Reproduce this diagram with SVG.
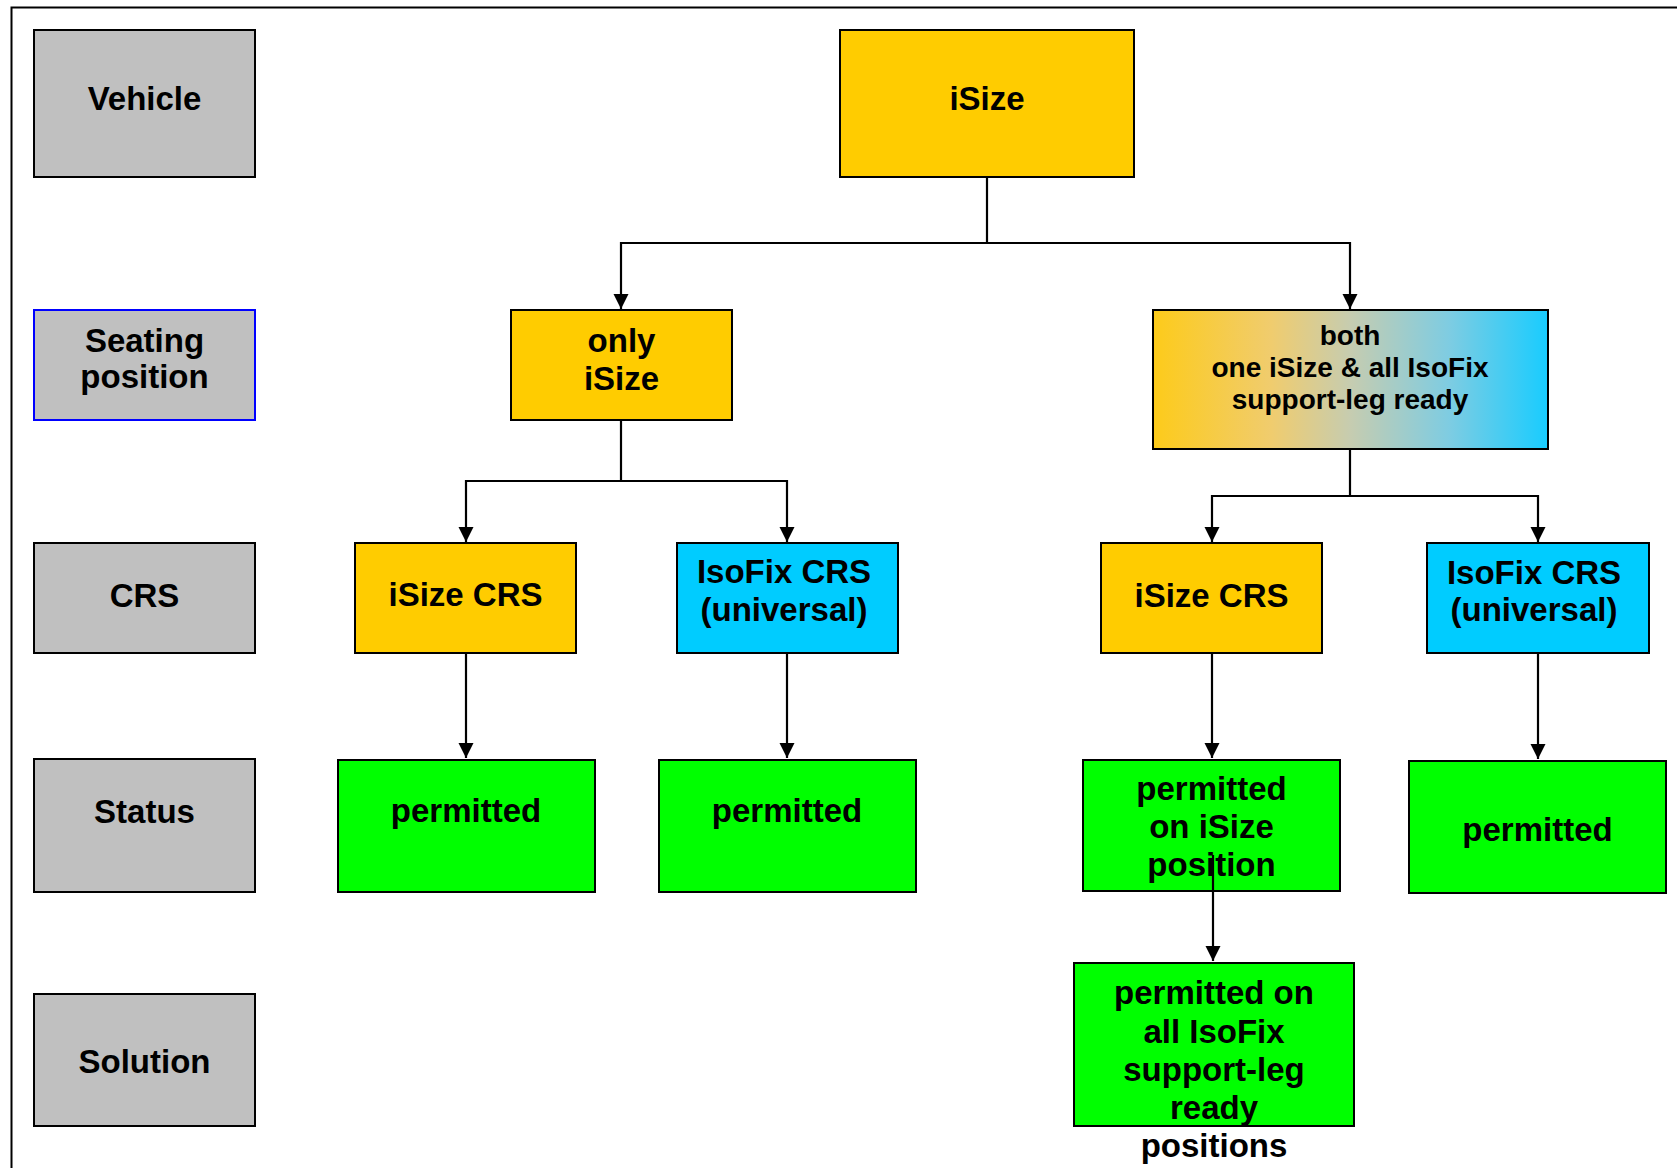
<svg xmlns="http://www.w3.org/2000/svg" width="1677" height="1168" viewBox="0 0 1677 1168">
  <style>
    text { font-family: "Liberation Sans", Arial, sans-serif; font-weight: bold; fill: #000; text-anchor: middle; }
    .lbl { font-size: 33px; }
    .sm { font-size: 28px; }
    .box { stroke: #000; stroke-width: 2; }
    .gray { fill: #C0C0C0; }
    .yel { fill: #FFCC00; }
    .cyan { fill: #00CCFF; }
    .green { fill: #00FF00; }
    .conn { fill: none; stroke: #000; stroke-width: 2.2; }
  </style>
  <defs>
    <marker id="arrow" markerUnits="userSpaceOnUse" markerWidth="16" markerHeight="16" refX="15" refY="7.5" orient="auto">
      <path d="M0,0 L15,7.5 L0,15 z" fill="#000"/>
    </marker>
    <linearGradient id="grad" x1="0" y1="0" x2="1" y2="0">
      <stop offset="0" stop-color="#FDCB1A"/>
      <stop offset="0.3" stop-color="#F0CC6E"/>
      <stop offset="0.5" stop-color="#C6CCB0"/>
      <stop offset="0.75" stop-color="#7ECCE2"/>
      <stop offset="1" stop-color="#18CCFF"/>
    </linearGradient>
  </defs>
  <rect width="1677" height="1168" fill="#fff"/>
  <path d="M11.5,1168 V7.5 H1677" fill="none" stroke="#000" stroke-width="2"/>

  <g id="row-vehicle">
    <rect class="box gray" x="34" y="30" width="221" height="147"/>
    <text class="lbl" x="144.5" y="110">Vehicle</text>
  </g>
  <g id="row-seating">
    <rect class="gray" x="34" y="310" width="221" height="110" stroke="#0000FF" stroke-width="2"/>
    <text class="lbl" x="144.5" y="352">Seating</text>
    <text class="lbl" x="144.5" y="388">position</text>
  </g>
  <g id="row-crs">
    <rect class="box gray" x="34" y="543" width="221" height="110"/>
    <text class="lbl" x="144.5" y="607">CRS</text>
  </g>
  <g id="row-status">
    <rect class="box gray" x="34" y="759" width="221" height="133"/>
    <text class="lbl" x="144.5" y="823">Status</text>
  </g>
  <g id="row-solution">
    <rect class="box gray" x="34" y="994" width="221" height="132"/>
    <text class="lbl" x="144.5" y="1073">Solution</text>
  </g>

  <g id="isize">
    <rect class="box yel" x="840" y="30" width="294" height="147"/>
    <text class="lbl" x="987" y="110">iSize</text>
  </g>
  <g id="only-isize">
    <rect class="box yel" x="511" y="310" width="221" height="110"/>
    <text class="lbl" x="621.5" y="352">only</text>
    <text class="lbl" x="621.5" y="390">iSize</text>
  </g>
  <g id="both">
    <rect class="box" fill="url(#grad)" x="1153" y="310" width="395" height="139"/>
    <text class="sm" x="1350" y="345">both</text>
    <text class="sm" x="1350" y="377">one iSize &amp; all IsoFix</text>
    <text class="sm" x="1350" y="409">support-leg ready</text>
  </g>

  <g id="isize-crs-1">
    <rect class="box yel" x="355" y="543" width="221" height="110"/>
    <text class="lbl" x="465.5" y="606">iSize CRS</text>
  </g>
  <g id="isofix-crs-1">
    <rect class="box cyan" x="677" y="543" width="221" height="110"/>
    <text class="lbl" x="784" y="583">IsoFix CRS</text>
    <text class="lbl" x="784" y="621">(universal)</text>
  </g>
  <g id="isize-crs-2">
    <rect class="box yel" x="1101" y="543" width="221" height="110"/>
    <text class="lbl" x="1211.5" y="607">iSize CRS</text>
  </g>
  <g id="isofix-crs-2">
    <rect class="box cyan" x="1427" y="543" width="222" height="110"/>
    <text class="lbl" x="1534" y="584">IsoFix CRS</text>
    <text class="lbl" x="1534" y="621">(universal)</text>
  </g>

  <g id="permitted-1">
    <rect class="box green" x="338" y="760" width="257" height="132"/>
    <text class="lbl" x="466" y="822">permitted</text>
  </g>
  <g id="permitted-2">
    <rect class="box green" x="659" y="760" width="257" height="132"/>
    <text class="lbl" x="787" y="822">permitted</text>
  </g>
  <g id="permitted-isize">
    <rect class="box green" x="1083" y="760" width="257" height="131"/>
    <text class="lbl" x="1211.5" y="800">permitted</text>
    <text class="lbl" x="1211.5" y="838">on iSize</text>
    <text class="lbl" x="1211.5" y="876">position</text>
  </g>
  <g id="permitted-3">
    <rect class="box green" x="1409" y="761" width="257" height="132"/>
    <text class="lbl" x="1537.5" y="841">permitted</text>
  </g>
  <g id="solution">
    <rect class="box green" x="1074" y="963" width="280" height="163"/>
    <text class="lbl" x="1214" y="1004">permitted on</text>
    <text class="lbl" x="1214" y="1043">all IsoFix</text>
    <text class="lbl" x="1214" y="1081">support-leg</text>
    <text class="lbl" x="1214" y="1119">ready</text>
    <text class="lbl" x="1214" y="1157">positions</text>
  </g>

  <g id="connectors">
    <path class="conn" d="M987,177 V243 H621 V309" marker-end="url(#arrow)"/>
    <path class="conn" d="M987,243 H1350 V309" marker-end="url(#arrow)"/>
    <path class="conn" d="M621,420 V481 H466 V542" marker-end="url(#arrow)"/>
    <path class="conn" d="M621,481 H787 V542" marker-end="url(#arrow)"/>
    <path class="conn" d="M1350,449 V496 H1212 V542" marker-end="url(#arrow)"/>
    <path class="conn" d="M1350,496 H1538 V542" marker-end="url(#arrow)"/>
    <path class="conn" d="M466,653 V758" marker-end="url(#arrow)"/>
    <path class="conn" d="M787,653 V758" marker-end="url(#arrow)"/>
    <path class="conn" d="M1212,653 V758" marker-end="url(#arrow)"/>
    <path class="conn" d="M1538,653 V759" marker-end="url(#arrow)"/>
    <path class="conn" d="M1213,855 V961" marker-end="url(#arrow)"/>
  </g>
</svg>
